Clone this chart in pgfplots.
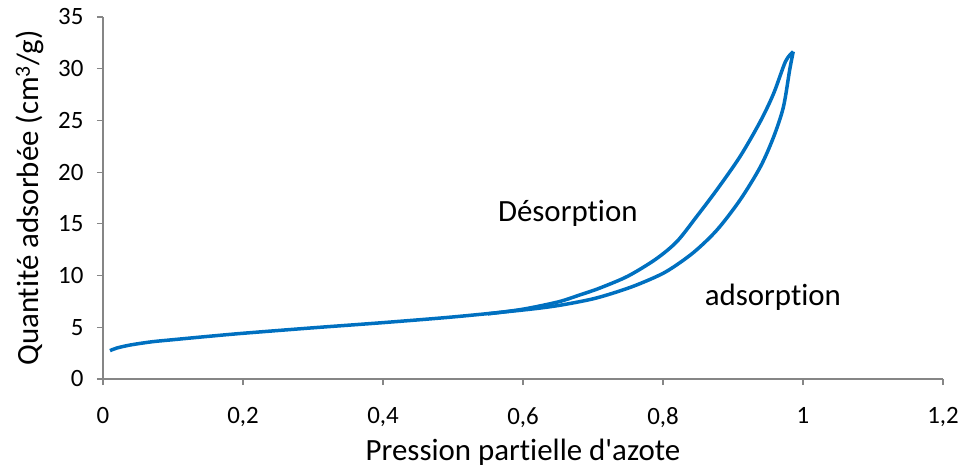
\documentclass[border=0pt]{standalone}
\usepackage{fontspec}
\setmainfont{Carlito}[Ligatures={TeXOff,NoCommon}]
\usepackage{pgfplots}
\pgfplotsset{compat=1.18}
\definecolor{ln}{HTML}{0070C0}
\definecolor{ax}{HTML}{868686}
\begin{document}
\begin{tikzpicture}[x=1bp,y=1bp]
\path[use as bounding box] (-103bp,-90bp) rectangle (859bp,379bp);
\begin{axis}[
  scale only axis, width=840bp, height=362bp,
  xmin=0, xmax=1.2, ymin=0, ymax=35,
  xtick={0,0.2,...,1.2}, ytick={0,5,...,35},
  axis x line*=bottom, axis y line*=left,
  axis line style={ax, line width=1.2bp},
  tick style={ax, line width=1.2bp},
  major tick length=6bp,
  tick pos=left,
  xtick align=outside, ytick align=outside,
  /pgf/number format/assume math mode=true,
  /pgf/number format/use comma,
  ticklabel style={font=\fontsize{25}{28}\selectfont},
  xticklabel style={anchor=north, yshift=-19bp},
  yticklabel style={anchor=east, xshift=-10bp},
  xlabel={Pression partielle d'azote},
  ylabel={Quantité adsorbée (cm\textsuperscript{3}/g)},
  label style={font=\fontsize{31}{34}\selectfont},
  xlabel style={at={(axis description cs:0.5,0)}, anchor=center, yshift=-73bp},
  ylabel style={at={(axis description cs:0,0.5)}, anchor=center, rotate=0, yshift=73bp},
  clip=false,
]
\addplot[ln, line width=3.5bp, smooth, tension=0.5] coordinates {
(0.01,2.74)(0.02,3.0)(0.04,3.3)(0.07,3.6)(0.1,3.8)(0.15,4.12)(0.2,4.42)
(0.3,4.95)(0.4,5.45)(0.5,6.0)(0.6,6.67)(0.65,7.1)(0.7,7.75)(0.74,8.55)
(0.77,9.3)(0.805,10.4)(0.843,12.2)(0.877,14.4)(0.91,17.3)(0.939,20.5)
(0.958,23.4)(0.972,26.3)(0.981,29.9)(0.986,31.65)};
\addplot[ln, line width=3.5bp, smooth, tension=0.5] coordinates {
(0.986,31.65)(0.975,30.7)(0.958,27.6)(0.939,24.9)(0.91,21.5)(0.877,18.3)
(0.848,15.7)(0.82,13.3)(0.79,11.6)(0.75,9.95)(0.71,8.8)(0.68,8.1)
(0.65,7.45)(0.6,6.75)(0.55,6.3)};
\node[font=\fontsize{31}{34}\selectfont] at (axis cs:0.664,16.05) {Désorption};
\node[font=\fontsize{31}{34}\selectfont] at (axis cs:0.957,7.93) {adsorption};
\end{axis}
\end{tikzpicture}
\end{document}
